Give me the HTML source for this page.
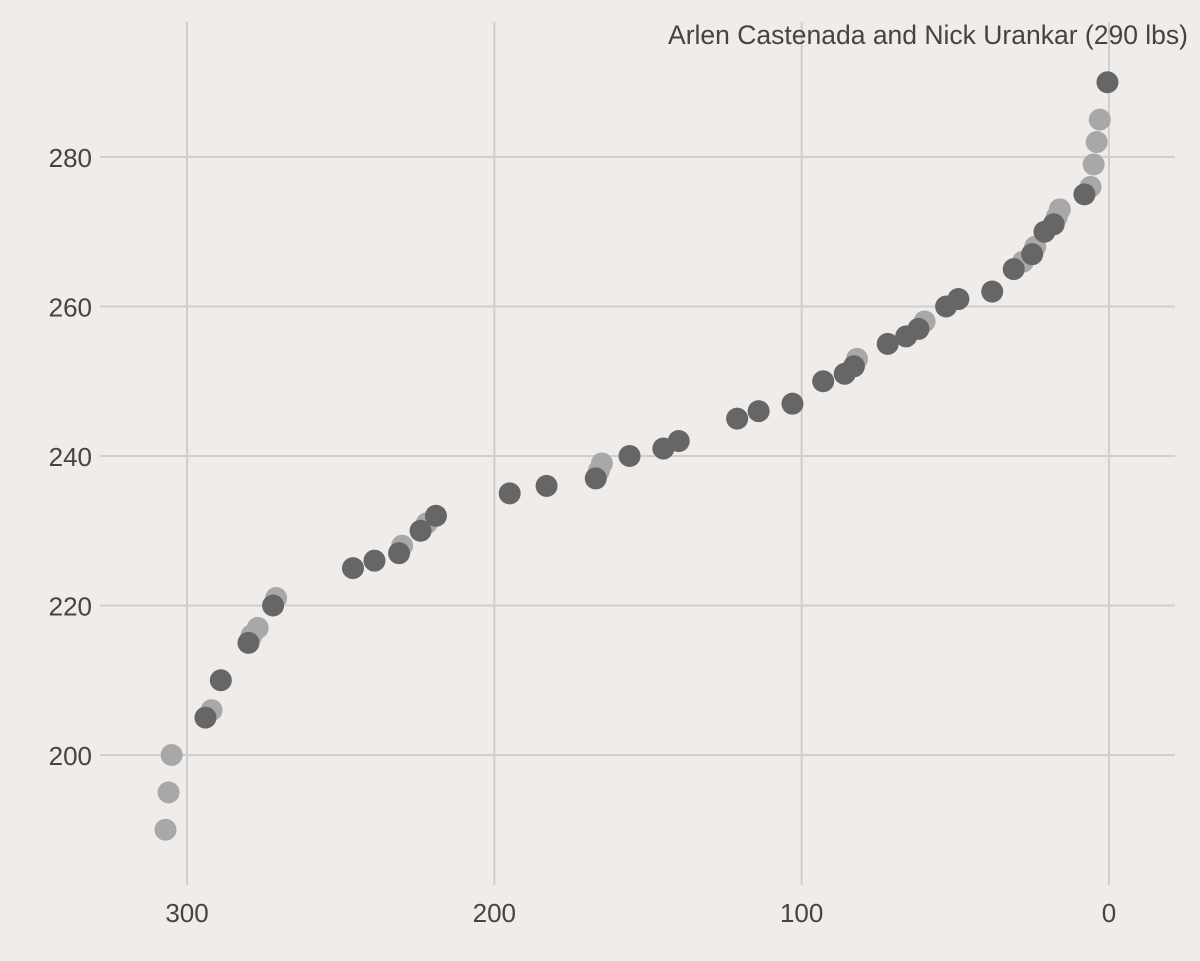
<!DOCTYPE html>
<html><head><meta charset="utf-8"><style>
html,body{margin:0;padding:0;background:#efecea;}
svg{display:block;font-family:"Liberation Sans",sans-serif;}
</style></head><body>
<svg id="chart" width="1200" height="961">
<rect width="1200" height="961" fill="#efecea"/>
<g id="grid"></g><g id="pts"></g><g id="labels"></g>
<text x="1188" y="44" text-anchor="end" font-size="26.5" fill="#444">Arlen Castenada and Nick Urankar (290 lbs)</text>
</svg>
<script>
const xTicks=[300,200,100,0];
const yTicks=[200,220,240,260,280];
const darkRank=[0.5,8,31,21,18,25,38,49,53,62,66,72,83,86,93,103,114,121,140,145,156,167,183,195,219,224,231,239,246,272,280,289,294];
const darkWeight=[290,275,265,270,271,267,262,261,260,257,256,255,252,251,250,247,246,245,242,241,240,237,236,235,232,230,227,226,225,220,215,210,205];
const lightRank=[3,4,5,6,16,17,24,28,60,82,165,166,222,230,271,277,279,292,305,306,307];
const lightWeight=[285,282,279,276,273,272,268,266,258,253,239,238,231,228,221,217,216,206,200,195,190];
const NS="http://www.w3.org/2000/svg";
const X=v=>1109-v*3.0733, Y=v=>755-(v-200)*7.475;
function mk(t,a,p){const e=document.createElementNS(NS,t);for(const k in a)e.setAttribute(k,a[k]);p.appendChild(e);return e;}
const g=document.getElementById('grid'),L=document.getElementById('labels'),P=document.getElementById('pts');
xTicks.forEach(v=>{
 const l=mk('line',{x1:X(v),x2:X(v),y1:22,y2:885,stroke:'#cfcfcf','stroke-width':2},g);
 
 
 const t=mk('text',{x:X(v),y:922,'text-anchor':'middle','font-size':26,fill:'#444'},L);t.textContent=v;
 
 
});
yTicks.forEach(v=>{
 const l=mk('line',{x1:100,x2:1175,y1:Y(v),y2:Y(v),stroke:'#cfcfcf','stroke-width':2},g);
 
 
 const t=mk('text',{x:92,y:Y(v)+10,'text-anchor':'end','font-size':26,fill:'#444'},L);t.textContent=v;
 
 
});
lightRank.forEach((r,i)=>{
 const c=mk('circle',{cx:X(r),cy:Y(lightWeight[i]),r:11,fill:'#a9a8a8'},P);
 
 
});
darkRank.forEach((r,i)=>{
 const c=mk('circle',{cx:X(r),cy:Y(darkWeight[i]),r:11,fill:'#666666'},P);
 
 
});
</script>
</body></html>
